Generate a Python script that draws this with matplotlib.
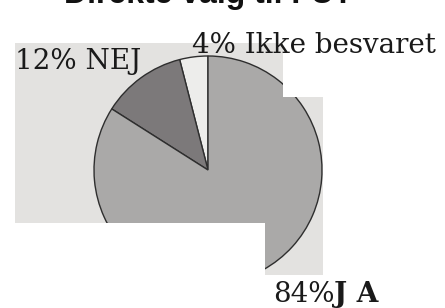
import numpy as np
import matplotlib.pyplot as plt
from matplotlib.patches import Polygon

# Direkte valg til FU? - svar i procent
labels = ['Ikke besvaret', 'NEJ', 'JA']
values = [4, 12, 84]
colors = ['#ededeb', '#7c797a', '#aaa9a8']

W, H = 445, 308
fig = plt.figure(figsize=(W / 100, H / 100), dpi=100)
ax = fig.add_axes([0, 0, 1, 1])

def py(y):
    # pixel row -> data y
    return H - y

wedges, _ = ax.pie(values, colors=colors, startangle=90, counterclock=True,
                   center=(208, py(170)), radius=114, frame=True,
                   wedgeprops=dict(edgecolor='#2e2e2e', linewidth=1.0))
ax.set_xlim(0, W)
ax.set_ylim(0, H)
ax.set_aspect('equal')
ax.axis('off')

# grey scanned paper patch behind the pie
outline = [(15, 43), (283, 43), (283, 97), (323, 97), (323, 275),
           (265, 275), (265, 223), (15, 223)]
paper = Polygon([(x, py(y)) for x, y in outline], closed=True,
                facecolor='#e3e2e0', edgecolor='none', zorder=0)
ax.add_patch(paper)

for w in wedges:
    w.set_zorder(1)
    w.set_clip_on(True)
    w.set_clip_path(paper)

serif = 'DejaVu Serif'
ax.text(15, py(69), '12% NEJ', family=serif, fontsize=20, color='#1a1a1a',
        va='baseline', ha='left')
ax.text(192, py(53), '4% Ikke besvaret', family=serif, fontsize=20,
        color='#1a1a1a', va='baseline', ha='left')
ax.text(273, py(302), '84%', family=serif, fontsize=20, color='#1a1a1a',
        va='baseline', ha='left')
ax.text(334, py(302), 'J A', family=serif, fontsize=20, fontweight='bold',
        color='#1a1a1a', va='baseline', ha='left')

# title, mostly cut off at the top of the scan
ax.text(209, py(3), 'Direkte valg til FU?', family='Liberation Sans',
        fontsize=23, fontweight='bold', color='#111111',
        va='baseline', ha='center')

fig.savefig('out.png', dpi=100)
